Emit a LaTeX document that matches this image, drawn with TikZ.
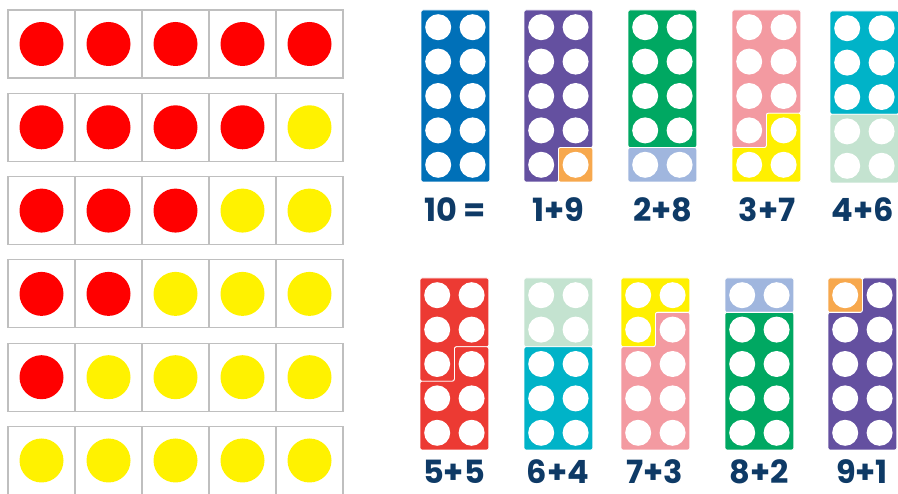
\documentclass[tikz,border=0pt]{standalone}
\usepackage{fontspec}
\newfontfamily\sumfont{Poppins}
\definecolor{nblue}{RGB}{0,112,184}
\definecolor{npurple}{RGB}{100,80,160}
\definecolor{norange}{RGB}{247,168,77}
\definecolor{ngreen}{RGB}{0,168,98}
\definecolor{nlblue}{RGB}{160,182,222}
\definecolor{npink}{RGB}{243,154,161}
\definecolor{nyellow}{RGB}{255,240,0}
\definecolor{nteal}{RGB}{0,179,200}
\definecolor{nlgreen}{RGB}{196,227,208}
\definecolor{nred}{RGB}{236,58,51}
\definecolor{navy}{RGB}{14,58,102}
% white holes of a numicon piece (2 x 5)
\newcommand{\holes}{\foreach \c in {0,1} \foreach \r in {0,...,4} \fill[white] (\c+0.5,\r+0.5) circle[radius=13pt];}

\begin{document}
\begin{tikzpicture}[
  x=1pt, y=-1pt,
  cellbox/.style={draw=gray!50, line width=1.2pt},
  part/.style={draw=white, line width=0.8pt, rounded corners=2pt},
  piece/.style={x=34.4pt, y=-34.4pt},
  sumlabel/.style={anchor=base, text=navy, inner sep=0pt, font=\sumfont\bfseries\fontsize{32}{32}\selectfont}
]
\useasboundingbox[fill=white] (0,0) rectangle (898,494);

% ten frames
\foreach \r in {0,...,5}
  \foreach \c in {0,...,4} {
    \draw[cellbox] (8+67*\c, 10+83.3*\r) rectangle ++(67,68);
    \ifnum\c<\numexpr5-\r\relax \def\dotcol{red}\else \def\dotcol{yellow}\fi
    \fill[\dotcol] (41.5+67*\c, 44+83.3*\r) circle[radius=22pt];
  }

% top row of pieces
\begin{scope}[shift={(421,10)}, piece]
  \path[part, fill=nblue] (0,0) rectangle (2,5);
  \holes
\end{scope}
\begin{scope}[shift={(524,10)}, piece]
  \path[part, fill=npurple] (0,0) -- (2,0) -- (2,4) -- (1,4) -- (1,5) -- (0,5) -- cycle;
  \path[part, fill=norange] (1,4) rectangle (2,5);
  \holes
\end{scope}
\begin{scope}[shift={(628,10)}, piece]
  \path[part, fill=ngreen] (0,0) rectangle (2,4);
  \path[part, fill=nlblue] (0,4) rectangle (2,5);
  \holes
\end{scope}
\begin{scope}[shift={(732,10)}, piece]
  \path[part, fill=npink] (0,0) -- (2,0) -- (2,3) -- (1,3) -- (1,4) -- (0,4) -- cycle;
  \path[part, fill=nyellow] (1,3) -- (2,3) -- (2,5) -- (0,5) -- (0,4) -- (1,4) -- cycle;
  \holes
\end{scope}
\begin{scope}[shift={(830,11)}, piece]
  \path[part, fill=nteal] (0,0) rectangle (2,3);
  \path[part, fill=nlgreen] (0,3) rectangle (2,5);
  \holes
\end{scope}

% bottom row of pieces
\begin{scope}[shift={(420,278)}, piece]
  \path[part, fill=nred] (0,0) -- (2,0) -- (2,2) -- (1,2) -- (1,3) -- (0,3) -- cycle;
  \path[part, fill=nred] (1,2) -- (2,2) -- (2,5) -- (0,5) -- (0,3) -- (1,3) -- cycle;
  \holes
\end{scope}
\begin{scope}[shift={(524,278)}, piece]
  \path[part, fill=nlgreen] (0,0) rectangle (2,2);
  \path[part, fill=nteal] (0,2) rectangle (2,5);
  \holes
\end{scope}
\begin{scope}[shift={(621,278)}, piece]
  \path[part, fill=nyellow] (0,0) -- (2,0) -- (2,1) -- (1,1) -- (1,2) -- (0,2) -- cycle;
  \path[part, fill=npink] (1,1) -- (2,1) -- (2,5) -- (0,5) -- (0,2) -- (1,2) -- cycle;
  \holes
\end{scope}
\begin{scope}[shift={(725,278)}, piece]
  \path[part, fill=nlblue] (0,0) rectangle (2,1);
  \path[part, fill=ngreen] (0,1) rectangle (2,5);
  \holes
\end{scope}
\begin{scope}[shift={(828,278)}, piece]
  \path[part, fill=norange] (0,0) rectangle (1,1);
  \path[part, fill=npurple] (1,0) -- (2,0) -- (2,5) -- (0,5) -- (0,1) -- (1,1) -- cycle;
  \holes
\end{scope}

% sums
\node[sumlabel] (s10) at (455,222) {10 =};
\node[sumlabel] (s19) at (558,222) {1+9};
\node[sumlabel] (s28) at (663,222) {2+8};
\node[sumlabel] (s37) at (767,222) {3+7};
\node[sumlabel] (s46) at (863,222) {4+6};
\node[sumlabel] (s55) at (454,484) {5+5};
\node[sumlabel] (s64) at (558,484) {6+4};
\node[sumlabel] (s73) at (655,484) {7+3};
\node[sumlabel] (s82) at (759,484) {8+2};
\node[sumlabel] (s91) at (862,484) {9+1};
\end{tikzpicture}
\end{document}
